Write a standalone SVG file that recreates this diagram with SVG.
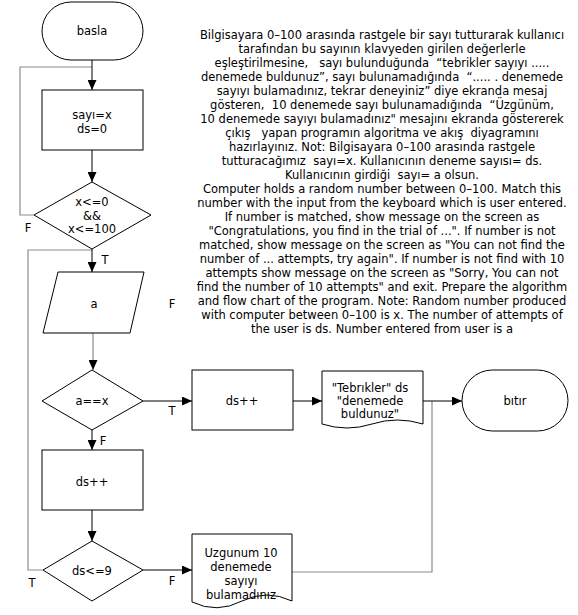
<svg xmlns="http://www.w3.org/2000/svg" width="578" height="615" viewBox="0 0 578 615">
  <style>
    text { font-family: "DejaVu Sans", Verdana, sans-serif; font-size: 11.5px; fill: #000; }
    .lbl { text-anchor: middle; }
    .shape { fill: #fff; stroke: #000; stroke-width: 1; }
    .line { fill: none; stroke: #000; stroke-width: 1; }
    .grey { fill: none; stroke: #8c8c8c; stroke-width: 1.2; }
    .desc { text-anchor: middle; white-space: pre; }
  </style>
  <defs>
    <marker id="arrow" markerUnits="userSpaceOnUse" markerWidth="10" markerHeight="9" refX="10" refY="4.5" orient="auto">
      <path d="M0,0 L10,4.5 L0,9 z" fill="#000"/>
    </marker>
  </defs>

  <!-- connectors -->
  <g id="connectors">
    <path class="grey" d="M34,215 H20 V67 H92"/>
    <path class="grey" d="M43,570 H28 V250 H92"/>
    <path class="grey" d="M292,572 H432 V401"/>
    <path class="line" d="M92,60 V90" marker-end="url(#arrow)"/>
    <path class="line" d="M92,150 V182" marker-end="url(#arrow)"/>
    <path class="line" d="M92,249 V272" marker-end="url(#arrow)" stroke-width="1.5"/>
    <path class="grey" d="M93,333 V370" marker-end="url(#arrow)"/>
    <path class="line" d="M143,401 H192" marker-end="url(#arrow)"/>
    <path class="line" d="M293,401 H322" marker-end="url(#arrow)"/>
    <path class="line" d="M423,401 H462" marker-end="url(#arrow)"/>
    <path class="line" d="M92,430 V450" marker-end="url(#arrow)"/>
    <path class="line" d="M92,510 V541" marker-end="url(#arrow)"/>
    <path class="line" d="M143,570 H192" marker-end="url(#arrow)"/>
    <text x="28" y="232" class="lbl">F</text>
    <text x="105" y="264" class="lbl">T</text>
    <text x="172" y="308" class="lbl">F</text>
    <text x="172" y="415" class="lbl">T</text>
    <text x="103" y="445" class="lbl">F</text>
    <text x="32" y="587" class="lbl">T</text>
    <text x="172" y="585" class="lbl">F</text>
  </g>

  <g id="start">
    <rect class="shape" x="42" y="2" width="101" height="58" rx="29" ry="29"/>
    <text x="92" y="35" class="lbl">basla</text>
  </g>

  <g id="init">
    <rect class="shape" x="42" y="90" width="101" height="60"/>
    <text x="92" y="119" class="lbl">sayı=x</text>
    <text x="92" y="133" class="lbl">ds=0</text>
  </g>

  <g id="range-check">
    <polygon class="shape" points="92,182 151,215 92,249 34,215"/>
    <text x="92" y="206" class="lbl">x&lt;=0</text>
    <text x="92" y="220" class="lbl">&amp;&amp;</text>
    <text x="92" y="233" class="lbl">x&lt;=100</text>
  </g>

  <g id="input">
    <polygon class="shape" points="58,272 144,272 130,333 43,333"/>
    <text x="94" y="308" class="lbl">a</text>
  </g>

  <g id="compare">
    <polygon class="shape" points="92,370 143,401 92,430 42,401"/>
    <text x="92" y="405" class="lbl">a==x</text>
  </g>

  <g id="count-found">
    <rect class="shape" x="192" y="370" width="101" height="60"/>
    <text x="242" y="405" class="lbl">ds++</text>
  </g>

  <g id="msg-found">
    <path class="shape" d="M322,371 H423 V424 Q397,416 372,424 Q347,432 322,424 Z"/>
    <text x="370" y="392" class="lbl">"Tebrıkler" ds</text>
    <text x="370" y="405" class="lbl">"denemede</text>
    <text x="370" y="418" class="lbl">buldunuz"</text>
  </g>

  <g id="end">
    <rect class="shape" x="462" y="370" width="106" height="61" rx="30.5" ry="30.5"/>
    <text x="515" y="405" class="lbl">bıtır</text>
  </g>

  <g id="count-miss">
    <rect class="shape" x="42" y="450" width="101" height="60"/>
    <text x="92" y="486" class="lbl">ds++</text>
  </g>

  <g id="limit-check">
    <polygon class="shape" points="92,541 143,570 92,601 43,570"/>
    <text x="92" y="575" class="lbl">ds&lt;=9</text>
  </g>

  <g id="msg-fail">
    <path class="shape" d="M192,534 H292 V601 Q267,589 242,601 Q217,614 192,602 Z"/>
    <text x="241" y="557" class="lbl">Uzgunum 10</text>
    <text x="241" y="571" class="lbl">denemede</text>
    <text x="241" y="585" class="lbl">sayıyı</text>
    <text x="241" y="599" class="lbl">bulamadınız</text>
  </g>

  <!-- problem statement -->
  <g id="description">
    <text class="desc" x="382" y="39">Bilgisayara 0–100 arasında rastgele bir sayı tutturarak kullanıcı</text>
    <text class="desc" x="382" y="53">tarafından bu sayının klavyeden girilen değerlerle</text>
    <text class="desc" x="382" y="67">eşleştirilmesine,   sayı bulunduğunda  “tebrikler sayıyı .....</text>
    <text class="desc" x="382" y="81">denemede buldunuz”, sayı bulunamadığında  “..... . denemede</text>
    <text class="desc" x="382" y="95">sayıyı bulamadınız, tekrar deneyiniz” diye ekranda mesaj</text>
    <text class="desc" x="382" y="109">gösteren,  10 denemede sayı bulunamadığında  “Üzgünüm,</text>
    <text class="desc" x="382" y="123">10 denemede sayıyı bulamadınız" mesajını ekranda göstererek</text>
    <text class="desc" x="382" y="137">çıkış   yapan programın algoritma ve akış  diyagramını</text>
    <text class="desc" x="382" y="151">hazırlayınız. Not: Bilgisayara 0–100 arasında rastgele</text>
    <text class="desc" x="382" y="165">tutturacağımız  sayı=x. Kullanıcının deneme sayısı= ds.</text>
    <text class="desc" x="382" y="179">Kullanıcının girdiği  sayı= a olsun.</text>
    <text class="desc" x="382" y="193">Computer holds a random number between 0–100. Match this</text>
    <text class="desc" x="382" y="207">number with the input from the keyboard which is user entered.</text>
    <text class="desc" x="382" y="221">If number is matched, show message on the screen as</text>
    <text class="desc" x="382" y="235">"Congratulations, you find in the trial of ...". If number is not</text>
    <text class="desc" x="382" y="249">matched, show message on the screen as "You can not find the</text>
    <text class="desc" x="382" y="263">number of ... attempts, try again". If number is not find with 10</text>
    <text class="desc" x="382" y="277">attempts show message on the screen as "Sorry, You can not</text>
    <text class="desc" x="382" y="291">find the number of 10 attempts" and exit. Prepare the algorithm</text>
    <text class="desc" x="382" y="305">and flow chart of the program. Note: Random number produced</text>
    <text class="desc" x="382" y="319">with computer between 0–100 is x. The number of attempts of</text>
    <text class="desc" x="382" y="333">the user is ds. Number entered from user is a</text>
  </g>
</svg>
